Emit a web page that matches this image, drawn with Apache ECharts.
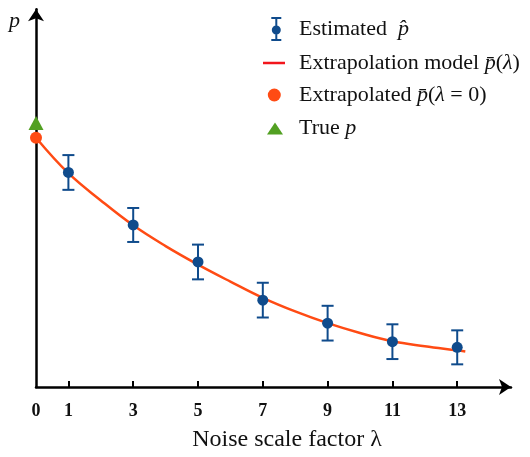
<!DOCTYPE html>
<html>
<head>
<meta charset="utf-8">
<script src="https://cdn.jsdelivr.net/npm/echarts@6/dist/echarts.min.js"></script>
<style>
  html, body { margin: 0; padding: 0; background: #fff; }
  #chart { width: 530px; height: 457px; }
</style>
</head>
<body>
<div id="chart"></div>
<script>
var lambdas = [1, 3, 5, 7, 9, 11, 13];
var pHat = [56.8, 42.9, 33.1, 23.0, 16.9, 12.0, 10.5];
var pErr = [4.6, 4.5, 4.6, 4.6, 4.6, 4.6, 4.5];

// fitted extrapolation curve
var curveX = [0, 1, 2, 3, 4, 5, 6, 7, 8, 9, 10, 11, 12, 13, 13.25];
var curveY = [66.0, 56.6, 49.4, 42.8, 37.3, 32.4, 27.9, 23.6, 20.0, 16.9, 14.3, 12.1, 10.8, 9.7, 9.4];

var extrapolated = 66.0;
var trueP = 69.9;

var tickLabels = [0, 1, 3, 5, 7, 9, 11, 13];
var tickMarks = [1, 3, 5, 7, 9, 11, 13];

var FONT = 'Liberation Serif';
var BLUE = '#0f4b8c';
var ORANGE = '#ff4b14';
var LEGEND_RED = '#f2161c';
var GREEN = '#52a022';

var legendText = {
    est: 'Estimated  {m|p\u0302}',
    model: 'Extrapolation model {m|p\u0304}({m|\u03bb})',
    extrap: 'Extrapolated {m|p\u0304}({m|\u03bb} = 0)',
    tru: 'True {m|p}'
};

function makeLegend(name, w, h, cx, cy, icon, color) {
    var left = cx - w / 2;
    var boxH = Math.max(h, 22);
    return {
        data: [{ name: name, icon: icon, itemStyle: { color: color, borderWidth: 0 } }],
        left: left,
        top: cy - boxH / 2,
        padding: 0,
        itemWidth: w,
        itemHeight: h,
        selectedMode: false,
        formatter: function (n) { return legendText[n]; },
        textStyle: {
            fontFamily: FONT, fontSize: 22, color: '#111', lineHeight: 22,
            padding: [0, 0, 0, 299 - (left + w + 5)],
            rich: { m: { fontFamily: FONT, fontStyle: 'italic', fontSize: 22, lineHeight: 22 } }
        }
    };
}

function renderErrorBar(params, api) {
    var x = api.value(0);
    var top = api.coord([x, api.value(2)]);
    var bot = api.coord([x, api.value(1)]);
    var w = 6;
    var style = { stroke: BLUE, lineWidth: 2 };
    return {
        type: 'group',
        children: [
            { type: 'line', shape: { x1: top[0], y1: top[1], x2: bot[0], y2: bot[1] }, style: style },
            { type: 'line', shape: { x1: top[0] - w, y1: top[1], x2: top[0] + w, y2: top[1] }, style: style },
            { type: 'line', shape: { x1: bot[0] - w, y1: bot[1], x2: bot[0] + w, y2: bot[1] }, style: style }
        ]
    };
}

var chart = echarts.init(document.getElementById('chart'));
chart.setOption({
    animation: false,
    backgroundColor: '#fff',
    title: {
        text: 'p', left: 9, top: 10, padding: 0,
        textStyle: { fontFamily: FONT, fontStyle: 'italic', fontWeight: 'normal', fontSize: 22, color: '#111' }
    },
    legend: [
        makeLegend('est', 10, 24, 276.3, 29, 'path://M0,0H10V2H6V22H10V24H0V22H4V2H0Z M5,8.5A4.5,4.5 0 1,1 5,17.5A4.5,4.5 0 1,1 5,8.5Z', BLUE),
        makeLegend('model', 22, 2.5, 274, 63, 'rect', LEGEND_RED),
        makeLegend('extrap', 13, 13, 274.3, 95, 'circle', ORANGE),
        makeLegend('tru', 16, 12, 275, 128.5, 'triangle', GREEN)
    ],
    grid: { left: 36, right: 19, top: 9.3, bottom: 68 },
    xAxis: {
        type: 'value', min: 0, max: 14.66,
        name: 'Noise scale factor \u03bb',
        nameLocation: 'middle', nameGap: 41,
        nameTextStyle: { fontFamily: FONT, fontSize: 24, color: '#111', padding: [0, 0, 0, 27] },
        axisLine: { show: true, symbol: ['none', 'arrow'], symbolSize: [12, 12], lineStyle: { color: '#000', width: 2.5 } },
        axisTick: { show: true, inside: true, length: 6, customValues: tickMarks, lineStyle: { color: '#000', width: 2 } },
        axisLabel: { customValues: tickLabels, margin: 15, fontFamily: FONT, fontWeight: 'bold', fontSize: 18, color: '#111' },
        splitLine: { show: false }
    },
    yAxis: {
        type: 'value', min: 0, max: 100,
        axisLine: { show: true, symbol: ['none', 'arrow'], symbolSize: [12, 12], lineStyle: { color: '#000', width: 2.5 } },
        axisTick: { show: false },
        axisLabel: { show: false },
        splitLine: { show: false }
    },
    series: [
        {
            name: 'model', type: 'line', smooth: 0.4, showSymbol: false,
            data: curveX.map(function (x, i) { return [x, curveY[i]]; }),
            lineStyle: { color: ORANGE, width: 2.5 }, itemStyle: { color: ORANGE }, z: 2
        },
        {
            name: 'est', type: 'custom', renderItem: renderErrorBar,
            data: lambdas.map(function (l, i) { return [l, pHat[i] - pErr[i], pHat[i] + pErr[i]]; }),
            encode: { x: 0, y: [1, 2] }, itemStyle: { color: BLUE }, z: 3
        },
        {
            name: 'est', type: 'scatter', symbolSize: 11,
            data: lambdas.map(function (l, i) { return [l, pHat[i]]; }),
            itemStyle: { color: BLUE, opacity: 1 }, z: 4
        },
        {
            name: 'extrap', type: 'scatter', symbolSize: 12, clip: false,
            data: [[0, extrapolated]], itemStyle: { color: ORANGE, opacity: 1 }, z: 5
        },
        {
            name: 'tru', type: 'scatter', symbol: 'triangle', symbolSize: [15, 14], clip: false,
            data: [[0, trueP]], itemStyle: { color: GREEN, opacity: 1 }, z: 5
        }
    ]
});
</script>
</body>
</html>
